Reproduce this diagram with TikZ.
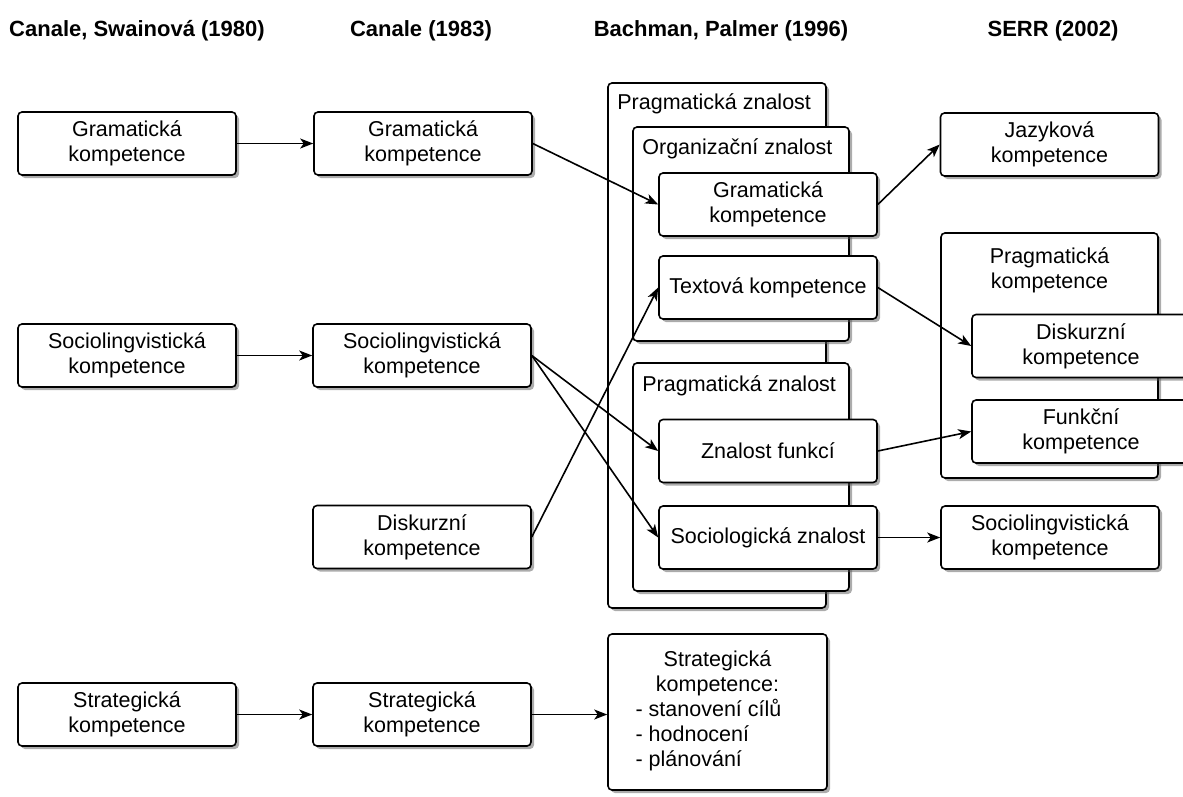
\documentclass[tikz,border=0pt]{standalone}
\usepackage{fontspec}
\setmainfont{Liberation Sans}
\usetikzlibrary{arrows.meta,shadows}
\tikzset{
        komp/.style={draw=black, line width=1.6pt, rounded corners=4pt, fill=white, align=center, inner sep=2pt,
          minimum width=218pt, minimum height=63pt, drop shadow={shadow xshift=3pt, shadow yshift=-3pt, fill=black!65}},
        skupina/.style={komp, minimum width=0pt, minimum height=0pt, inner sep=0pt},
        skupinatext/.style={anchor=base west, inner sep=0pt},
        nadpis/.style={anchor=base, inner sep=0pt, font=\fontsize{22}{26}\selectfont\bfseries},
        link/.style={-{Stealth[length=13pt, width=10pt, inset=3.5pt]}, line width=1.6pt}
          }
\begin{document}
\begin{tikzpicture}[x=1pt, y=-1pt, font=\fontsize{21.5}{25}\selectfont]
            \clip (0,0) rectangle (1183,796);
            \node[nadpis] (h1) at (137,36) {Canale, Swainová (1980)};
            \node[nadpis] (h2) at (421,36) {Canale (1983)};
            \node[nadpis] (h3) at (721,36) {Bachman, Palmer (1996)};
            \node[nadpis] (h4) at (1053,36) {SERR (2002)};

            \node[komp] (gram1) at (127,143.5) {Gramatická\\kompetence};
            \node[komp] (socio1) at (127,355.5) {Sociolingvistická\\kompetence};
            \node[komp] (strat1) at (127,714.5) {Strategická\\kompetence};

            \node[komp] (gram2) at (423,143.5) {Gramatická\\kompetence};
            \node[komp] (socio2) at (422,355.5) {Sociolingvistická\\kompetence};
            \node[komp] (disk2) at (422,537) {Diskurzní\\kompetence};
            \node[komp] (strat2) at (422,714.5) {Strategická\\kompetence};

            \node[skupina, minimum width=218, minimum height=525] (pragm3) at (717,345.5) {};
            \node[skupinatext] (pragm3text) at ([shift={(10,27)}]pragm3.north west) {Pragmatická znalost};
            \node[skupina, minimum width=216, minimum height=214] (org3) at (741,234) {};
            \node[skupinatext] (org3text) at ([shift={(10,28)}]org3.north west) {Organizační znalost};
            \node[komp] (gram3) at (768,204.5) {Gramatická\\kompetence};
            \node[komp] (text3) at (768,287.5) {Textová kompetence};
            \node[skupina, minimum width=216, minimum height=228] (pragmb3) at (741,477) {};
            \node[skupinatext] (pragmb3text) at ([shift={(10,29)}]pragmb3.north west) {Pragmatická znalost};
            \node[komp] (funk3) at (768,451) {Znalost funkcí};
            \node[komp] (sociol3) at (768,537.5) {Sociologická znalost};
            \node[komp, minimum width=219, minimum height=156] (strat3) at (717.5,712) {Strategická\\kompetence:\\
              \hspace*{-18pt}\begin{tabular}[t]{@{}l@{}}- stanovení cílů\\- hodnocení\\- plánování\end{tabular}};

            \node[komp] (jaz4) at (1049.5,144.5) {Jazyková\\kompetence};
            \node[skupina, minimum width=217, minimum height=245] (pragm4) at (1049.5,355.5) {};
            \node[anchor=north, inner sep=0pt, align=center] (pragm4text) at ([yshift=-15pt]pragm4.north) {Pragmatická\\kompetence};
            \node[komp] (disk4) at (1081,346) {Diskurzní\\kompetence};
            \node[komp] (funk4) at (1081,431.5) {Funkční\\kompetence};
            \node[komp] (socio4) at (1050,537.5) {Sociolingvistická\\kompetence};

            \draw[link] (gram1.east) -- (gram2.west);
            \draw[link] (socio1.east) -- (socio2.west);
            \draw[link] (strat1.east) -- (strat2.west);
            \draw[link] (strat2.east) -- (strat2.east -| strat3.west);
            \draw[link] (gram2.east) -- (gram3.west);
            \draw[link] (socio2.east) -- (funk3.west);
            \draw[link] (socio2.east) -- (sociol3.west);
            \draw[link] (disk2.east) -- (text3.west);
            \draw[link] (gram3.east) -- (jaz4.west);
            \draw[link] (text3.east) -- (disk4.west);
            \draw[link] (funk3.east) -- (funk4.west);
            \draw[link] (sociol3.east) -- (socio4.west);
          \end{tikzpicture}
\end{document}
